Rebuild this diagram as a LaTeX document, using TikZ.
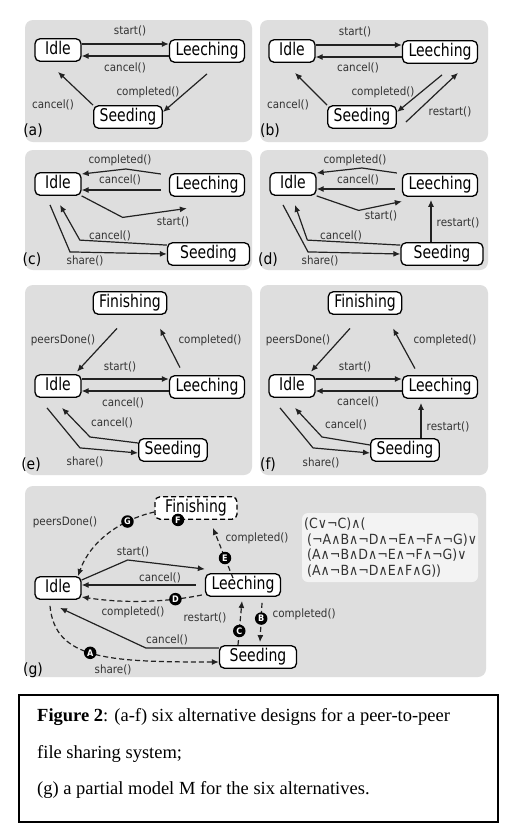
\documentclass[tikz,border=0pt]{standalone}
\usepackage{fontspec}
\setmainfont{Liberation Serif}
\newfontfamily\diag[FakeStretch=0.9]{DejaVu Sans}
\newfontfamily\diagn[FakeStretch=0.8]{DejaVu Sans}
\usetikzlibrary{arrows.meta,calc}
\definecolor{panelgray}{HTML}{DEDEDE}
\definecolor{formgray}{HTML}{F3F3F3}
\definecolor{edgegray}{HTML}{222222}
\definecolor{labelgray}{HTML}{333333}
\tikzset{
  panel/.style={fill=panelgray,rounded corners=8pt},
  stbox/.style={draw,line width=1.3pt,rounded corners=5pt,fill=white,inner xsep=6pt,inner ysep=3pt,
    text height=13pt,text depth=3.5pt,font=\diagn\fontsize{17.5}{18}\selectfont},
  idle/.style={stbox,minimum width=46pt},
  tr/.style={-{Latex[length=7pt,width=6pt]},line width=1.2pt,draw=edgegray},
  dtr/.style={tr,dash pattern=on 5pt off 3pt},
  lbl/.style={font=\diag\fontsize{11.5}{12}\selectfont,text=labelgray,inner sep=0pt},
  ptag/.style={font=\diag\fontsize{15.5}{16}\selectfont,inner sep=0pt},
  mk/.style={circle,fill=black,text=white,inner sep=0pt,minimum size=12.5pt,font=\diag\bfseries\fontsize{9}{9}\selectfont},
  formula/.style={font=\diag\fontsize{14}{15.5}\selectfont,text=labelgray,align=left,inner sep=0pt},
  captxt/.style={font=\fontsize{18.5}{20}\selectfont,inner sep=0pt}
}
\begin{document}
\begin{tikzpicture}[x=1pt,y=-1pt]
\path[use as bounding box,fill=white] (0,0) rectangle (520,831);

% grey panels
\fill[panel] (25,20) rectangle (252,142);
\fill[panel] (260,20) rectangle (488,142);
\fill[panel] (25,150) rectangle (252,270);
\fill[panel] (260,150) rectangle (488,270);
\fill[panel] (25,285) rectangle (252,475);
\fill[panel] (260,285) rectangle (488,475);
\fill[panel] (25,486) rectangle (486,677);

% (a)
\node[idle] (ia) at (58,50) {Idle};
\node[stbox] (la) at (207,51) {Leeching};
\node[stbox] (sa) at (128,117) {Seeding};
\draw[tr] ([yshift=6pt]ia.east) -- ([yshift=6pt]ia.east -| la.west) node[lbl] at (130,31) {start()};
\draw[tr] ([yshift=-6pt]la.west |- ia.east) -- ([yshift=-6pt]ia.east) node[lbl] at (125,68) {cancel()};
\draw[tr] ([yshift=-11pt]la.south) -- ([yshift=5pt]sa.east) node[lbl] at (148,92) {completed()};
\draw[tr] (sa.north west) -- ([yshift=-10pt]ia.south) node[lbl] at (53,105) {cancel()};
\node[ptag] (ta) at (33,131) {(a)};

% (b)
\node[idle] (ib) at (292,51) {Idle};
\node[stbox] (lb) at (440,52) {Leeching};
\node[stbox] (sb) at (362,117) {Seeding};
\draw[tr] ([yshift=6pt]ib.east) -- ([yshift=6pt]ib.east -| lb.west) node[lbl] at (355,32) {start()};
\draw[tr] ([yshift=-6pt]lb.west |- ib.east) -- ([yshift=-6pt]ib.east) node[lbl] at (358,68) {cancel()};
\draw[tr] ([xshift=2pt,yshift=-11pt]lb.south) -- ([yshift=5pt]sb.east) node[lbl] at (383,92) {completed()};
\draw[tr] ([xshift=9pt,yshift=-5pt]sb.east) -- ([xshift=18pt,yshift=-9pt]lb.south) node[lbl] at (450,112) {restart()};
\draw[tr] (sb.north west) -- ([xshift=3pt,yshift=-10pt]ib.south) node[lbl] at (288,105) {cancel()};
\node[ptag] (tb) at (270,131) {(b)};

% (c)
\node[idle] (ic) at (58,184) {Idle};
\node[stbox] (lc) at (207,185) {Leeching};
\node[stbox,minimum width=82pt] (sc) at (208.5,254) {Seeding};
\draw[tr] ([xshift=-8pt,yshift=10pt]lc.west |- ic.east) -- ++(-35,-5) -- ([yshift=10pt]ic.east) node[lbl] at (120,160) {completed()};
\draw[tr] ([xshift=-8pt,yshift=-6pt]lc.west |- ic.east) -- ([yshift=-6pt]ic.east) node[lbl] at (120,180) {cancel()};
\draw[tr] (ic.south east) -- ++(41,21.5) -- ([xshift=18pt,yshift=-11.5pt]lc.south west) node[lbl] at (173,222) {start()};
\draw[tr] ([yshift=-3pt]sc.north west) -- ++(-87,-5) -- ([xshift=2pt,yshift=-9pt]ic.south) node[lbl] at (110,236) {cancel()};
\draw[tr] ([xshift=-8pt,yshift=-9pt]ic.south) -- ++(20,47) -- (sc.west) node[lbl] at (85,261) {share()};
\node[ptag] (tc) at (32,260) {(c)};

% (d)
\node[idle] (id) at (293,184) {Idle};
\node[stbox] (ld) at (440,185) {Leeching};
\node[stbox,minimum width=82pt] (sd) at (442,254) {Seeding};
\draw[tr] ([xshift=-5pt,yshift=11pt]ld.west |- id.east) -- ++(-35,-5) -- ([yshift=11pt]id.east) node[lbl] at (355,160) {completed()};
\draw[tr] ([xshift=-7pt,yshift=-5pt]ld.west |- id.east) -- ([yshift=-5pt]id.east) node[lbl] at (358,180) {cancel()};
\draw[tr] (id.south east) -- ++(42,14.5) -- ([yshift=-4.5pt]ld.south west) node[lbl] at (381,216) {start()};
\draw[tr] ([xshift=-11pt]sd.north) -- ([xshift=-9pt,yshift=-3pt]ld.south) node[lbl] at (458,223) {restart()};
\draw[tr] ([yshift=-3pt]sd.north west) -- ++(-93,-5) -- ([xshift=2pt,yshift=-9pt]id.south) node[lbl] at (341,236) {cancel()};
\draw[tr] ([xshift=-10pt,yshift=-9pt]id.south) -- ++(25,47) -- (sd.west) node[lbl] at (320,261) {share()};
\node[ptag] (td) at (268,260) {(d)};

% (e)
\node[stbox] (fe) at (130,303) {Finishing};
\node[idle] (ie) at (58,386) {Idle};
\node[stbox] (le) at (207,387) {Leeching};
\node[stbox] (se) at (173,450) {Seeding};
\draw[tr] ([xshift=-13pt,yshift=-13.5pt]fe.south) -- ([xshift=19pt,yshift=2.5pt]ie.north) node[lbl] at (63,340) {peersDone()};
\draw[tr] ([xshift=-27pt,yshift=7.5pt]le.north) -- ([xshift=30pt,yshift=-13.5pt]fe.south) node[lbl] at (210,340) {completed()};
\draw[tr] ([yshift=7pt]ie.east) -- ([yshift=7pt]ie.east -| le.west) node[lbl] at (120,367) {start()};
\draw[tr] ([yshift=-5pt]le.west |- ie.east) -- ([yshift=-5pt]ie.east) node[lbl] at (123,403) {cancel()};
\draw[tr] ([yshift=7pt]se.west) -- ++(-48,-6) -- ([xshift=4pt,yshift=-10pt]ie.south) node[lbl] at (112,423) {cancel()};
\draw[tr] ([xshift=-11pt,yshift=-10pt]ie.south) -- ++(33,40) -- ([yshift=-3pt]se.west) node[lbl] at (85,462) {share()};
\node[ptag] (te) at (31,465) {(e)};

% (f)
\node[stbox] (ff) at (365,303) {Finishing};
\node[idle] (if) at (292,386) {Idle};
\node[stbox] (lf) at (440,387) {Leeching};
\node[stbox] (sf) at (405,450) {Seeding};
\draw[tr] ([xshift=-15pt,yshift=-13.5pt]ff.south) -- ([xshift=19pt,yshift=2.5pt]if.north) node[lbl] at (298,340) {peersDone()};
\draw[tr] ([xshift=-25pt,yshift=6.5pt]lf.north) -- ([xshift=28pt,yshift=-13.5pt]ff.south) node[lbl] at (445,340) {completed()};
\draw[tr] ([yshift=7pt]if.east) -- ([yshift=7pt]if.east -| lf.west) node[lbl] at (355,367) {start()};
\draw[tr] ([yshift=-5pt]lf.west |- if.east) -- ([yshift=-5pt]if.east) node[lbl] at (358,402) {cancel()};
\draw[tr] ([xshift=16pt]sf.north) -- ([xshift=-19pt,yshift=-4pt]lf.south) node[lbl] at (448,427) {restart()};
\draw[tr] ([yshift=5pt]sf.west) -- ++(-48,-8) -- ([xshift=3pt,yshift=-10pt]if.south) node[lbl] at (346,425) {cancel()};
\draw[tr] ([xshift=-12pt,yshift=-10pt]if.south) -- ++(33,40) -- ([yshift=-3pt]sf.west) node[lbl] at (321,463) {share()};
\node[ptag] (tf) at (268,465) {(f)};

% (g) partial model
\node[stbox,minimum width=82pt,dash pattern=on 5pt off 3pt] (fg) at (196,508) {Finishing};
\node[idle] (ig) at (58,588) {Idle};
\node[stbox] (lg) at (243,585) {Leeching};
\node[stbox,minimum width=77pt] (sg) at (258,657) {Seeding};
\draw[dtr] ([yshift=-4pt]fg.west) .. controls +(-35,8) and +(12,-34) .. ([xshift=20pt]ig.north)
  node[mk,pos=0.27] (mG) {G} node[lbl] at (65,522) {peersDone()};
\draw[tr] ([yshift=8pt]ig.east) -- ++(46,-20) -- ([yshift=4pt]lg.north west) node[lbl] at (133,552) {start()};
\draw[tr] ([xshift=-9pt]lg.west) -- ([yshift=3pt]ig.east) node[lbl] at (160,578) {cancel()};
\draw[dtr] ([xshift=-3pt,yshift=-10pt]lg.west) .. controls +(-40,8) and +(40,6) .. ([yshift=-9pt]ig.east)
  node[mk,pos=0.22] (mD) {D} node[lbl] at (133,612) {completed()};
\draw[dtr] ([xshift=-10pt,yshift=-5pt]lg.north) -- ([xshift=17pt,yshift=-8pt]fg.south)
  node[mk,pos=0.4] (mE) {E} node[lbl] at (257,538) {completed()};
\node[mk] (mF) at ([xshift=-18pt]fg.south) {F};
\draw[dtr] ([xshift=-20pt]sg.north) -- ([xshift=-1pt,yshift=-4pt]lg.south)
  node[mk,pos=0.32] (mC) {C} node[lbl] at (205,618) {restart()};
\draw[dtr] ([xshift=19pt,yshift=-6pt]lg.south) -- ([xshift=2pt,yshift=3pt]sg.north)
  node[mk,pos=0.4] (mB) {B} node[lbl,anchor=west] at (272,614) {completed()};
\draw[tr] ([yshift=9pt]sg.west) -- ++(-73,0) -- ([xshift=2pt,yshift=-8pt]ig.south) node[lbl] at (167,640) {cancel()};
\draw[dtr] ([xshift=-8pt,yshift=-6pt]ig.south) .. controls +(5,54) and +(-110,0) .. ([yshift=-5pt]sg.west)
  node[mk,pos=0.47] (mA) {A} node[lbl] at (113,670) {share()};
\node[ptag] (tg) at (33,670) {(g)};

% constraint of M
\fill[formgray,rounded corners=6pt] (302,513) rectangle (478,582);
\node[formula,anchor=north west] (fm) at (304,518) {(C∨¬C)∧(\\
  \hspace*{3pt}(¬A∧B∧¬D∧¬E∧¬F∧¬G)∨\\
  \hspace*{3pt}(A∧¬B∧D∧¬E∧¬F∧¬G)∨\\
  \hspace*{3pt}(A∧¬B∧¬D∧E∧F∧G))};

% caption
\draw[line width=1.5pt] (19,695) rectangle (498,822);
\node[captxt,anchor=base west] (cap1) at (37,721) {\textbf{Figure 2}: (a-f) six alternative designs for a peer-to-peer};
\node[captxt,anchor=base west] (cap2) at (37,758) {file sharing system;};
\node[captxt,anchor=base west] (cap3) at (37,794) {(g) a partial model M for the six alternatives.};
\end{tikzpicture}
\end{document}
